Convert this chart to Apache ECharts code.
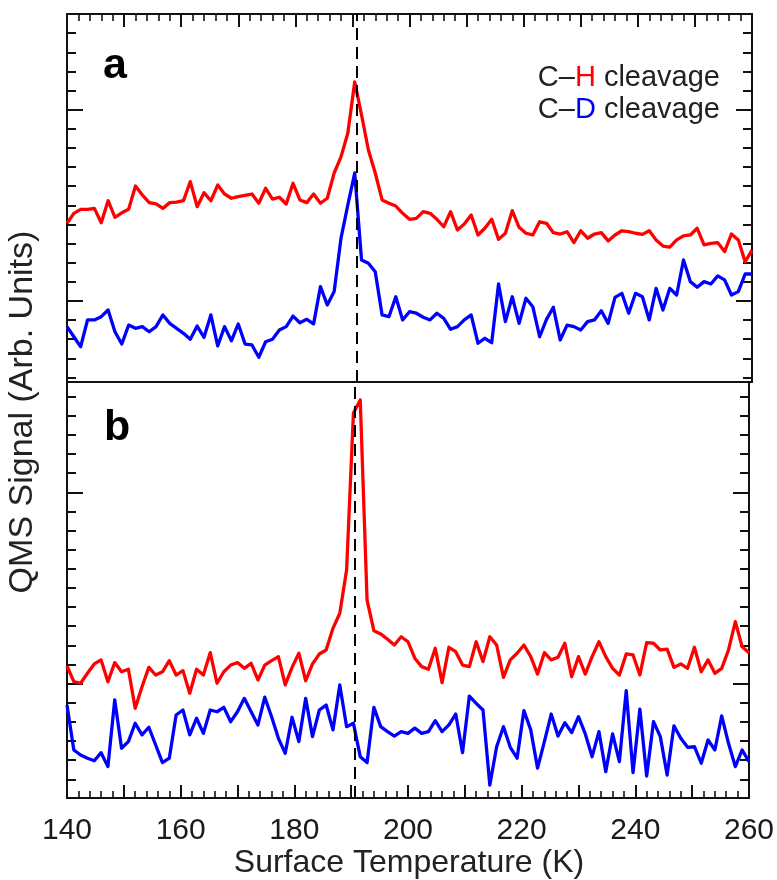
<!DOCTYPE html>
<html><head><meta charset="utf-8">
<script src="https://cdn.jsdelivr.net/npm/echarts@6/dist/echarts.min.js"></script>
<style>html,body{margin:0;padding:0;background:#fff}#c{width:777px;height:880px}</style>
</head><body><div id="c"></div>
<script>
// Surface temperature (K) sample grid
const temperature = [
140.0,141.2,142.4,143.6,144.8,146.0,147.2,148.4,149.6,150.8,
152.0,153.2,154.4,155.6,156.8,158.0,159.2,160.4,161.6,162.8,
164.0,165.2,166.4,167.6,168.8,170.0,171.2,172.4,173.6,174.8,
176.0,177.2,178.4,179.6,180.8,182.0,183.2,184.4,185.6,186.8,
188.0,189.2,190.4,191.6,192.8,194.0,195.2,196.4,197.6,198.8,
200.0,201.2,202.4,203.6,204.8,206.0,207.2,208.4,209.6,210.8,
212.0,213.2,214.4,215.6,216.8,218.0,219.2,220.4,221.6,222.8,
224.0,225.2,226.4,227.6,228.8,230.0,231.2,232.4,233.6,234.8,
236.0,237.2,238.4,239.6,240.8,242.0,243.2,244.4,245.6,246.8,
248.0,249.2,250.4,251.6,252.8,254.0,255.2,256.4,257.6,258.8,
260.0];

// Panel a, QMS signal (arb. units)
const panelA_CH = [
8.06,8.58,8.79,8.79,8.84,8.09,9.24,8.37,8.61,8.79,
10.01,9.54,9.14,9.07,8.84,9.14,9.17,9.24,10.24,8.93,
9.66,9.24,10.06,9.59,9.37,9.45,9.52,9.59,9.11,9.89,
9.32,9.42,9.07,10.15,9.28,9.14,9.59,9.11,9.37,10.69,
11.53,12.78,15.45,13.72,11.89,10.69,9.28,9.11,8.96,8.58,
8.27,8.32,8.67,8.58,8.27,7.88,8.67,7.71,8.02,8.49,
7.45,7.80,8.27,7.22,7.54,8.72,7.85,7.54,7.45,8.14,
8.06,7.57,7.50,7.62,7.05,7.67,7.28,7.50,7.57,7.14,
7.45,7.67,7.62,7.54,7.48,7.67,7.19,6.87,6.81,7.19,
7.40,7.45,7.80,6.93,7.01,7.05,6.58,7.50,7.19,6.05,
6.66];
const panelA_CD = [
2.66,2.13,1.61,3.01,3.01,3.18,3.53,2.39,1.75,2.74,
2.57,2.66,2.39,2.66,3.27,2.83,2.57,2.31,2.00,2.69,
2.10,3.27,1.65,2.66,1.92,2.80,1.75,1.70,1.06,1.87,
2.00,2.48,2.66,3.21,2.86,3.04,2.80,4.75,3.79,4.49,
7.28,9.02,10.69,6.14,5.97,5.53,3.27,3.18,4.22,3.01,
3.44,3.36,3.15,3.01,3.36,3.09,2.52,2.66,3.01,3.27,
1.79,2.05,1.82,4.89,2.92,4.22,2.83,4.14,3.70,2.13,
3.04,3.67,1.96,2.74,2.66,2.48,2.92,3.01,3.49,2.83,
4.19,4.40,3.36,4.40,4.22,3.01,4.66,3.53,4.66,4.31,
6.14,5.01,4.72,5.01,4.89,5.31,5.10,4.31,4.49,5.41,
5.41];

// Panel b, QMS signal (arb. units)
const panelB_CH = [
5.92,5.10,5.02,5.54,6.03,6.24,5.10,6.10,5.62,5.75,
3.71,4.84,5.85,5.45,5.62,6.20,5.45,5.68,4.50,5.75,
5.45,6.62,5.02,5.62,5.97,6.10,5.80,6.06,5.19,5.97,
6.20,6.41,4.93,5.85,6.59,5.15,6.03,6.55,6.76,7.89,
8.68,10.94,19.15,19.83,9.37,7.77,7.60,7.32,7.02,7.45,
7.19,6.33,5.89,5.75,6.85,5.05,6.90,6.67,5.97,5.89,
7.19,6.15,7.45,7.02,5.33,6.24,6.59,7.02,6.41,5.50,
6.62,6.24,6.38,7.11,5.36,6.41,5.50,6.41,7.19,6.41,
5.80,5.45,6.55,6.50,5.45,7.14,7.11,6.76,6.80,5.85,
6.03,5.80,6.90,5.62,6.24,5.54,5.80,6.76,8.24,6.93,
6.62];
const panelB_CD = [
3.88,1.53,1.27,1.10,0.97,1.39,0.66,4.15,1.62,1.97,
2.93,2.32,2.72,1.79,0.87,1.10,3.36,3.62,2.32,3.19,
2.40,3.62,3.53,3.76,3.01,3.53,4.23,3.53,2.84,4.29,
3.27,2.14,1.36,3.24,1.97,4.23,2.23,3.62,3.88,2.58,
4.93,2.75,2.93,1.18,0.87,3.76,2.75,2.49,2.26,2.49,
2.40,2.67,2.40,2.49,3.06,2.49,2.84,3.41,1.39,4.35,
3.97,3.62,-0.30,1.70,2.75,1.67,1.10,3.59,2.58,0.58,
1.97,3.41,2.26,2.96,2.44,3.27,2.37,1.18,2.49,0.40,
2.37,0.92,4.63,0.35,3.66,0.17,3.01,2.23,0.22,2.79,
2.14,1.67,1.70,0.84,2.05,1.53,3.31,1.88,0.66,1.53,
0.92];

// Axis values
const xRange = [140, 260];
const xMajorStep = 10;
const xTickLabels = [140, 160, 180, 200, 220, 240, 260];
const yRangeA = [-0.235, 19];
const yRangeB = [-0.98, 20.77];
const yTicksA = [0,1,2,3,4,5,6,7,8,9,10,11,12,13,14,15,16,17,18];
const yMajorA = [4, 14];
const yTicksB = [0,1,2,3,4,5,6,7,8,9,10,11,12,13,14,15,16,17,18,19,20];
const yMajorB = [5, 15];
const peakTemperature = 190.7;

const ink = '#111';
const red = '#ff0000';
const blue = '#0000ff';

function pairs(vals) { return temperature.map((t, i) => [t, vals[i]]); }

function xAx(grid, side, ticks, labels) {
  return {
    type: 'value', gridIndex: grid, position: side, min: xRange[0], max: xRange[1], interval: xMajorStep,
    axisLine: { show: true, onZero: false, lineStyle: { color: ink, width: 2 } },
    axisTick: { show: ticks, inside: true, length: 13, lineStyle: { color: ink, width: 2 } },
    minorTick: { show: ticks, splitNumber: 5, length: 7, lineStyle: { color: ink, width: 1.6 } },
    axisLabel: { show: labels, margin: 18, color: '#1a1a1a', fontSize: 30,
      fontFamily: '"Liberation Sans Narrow", "Liberation Sans", Arial, sans-serif',
      customValues: xTickLabels },
    splitLine: { show: false }, minorSplitLine: { show: false }
  };
}
function yAx(grid, side, range, ticks, len, showLine) {
  return {
    type: 'value', gridIndex: grid, position: side, min: range[0], max: range[1],
    axisLine: { show: showLine, onZero: false, lineStyle: { color: ink, width: 2 } },
    axisTick: { show: true, inside: true, length: len, customValues: ticks, lineStyle: { color: ink, width: 2 } },
    axisLabel: { show: false }, splitLine: { show: false }
  };
}
const dashLine = {
  silent: true, symbol: ['none', 'none'], label: { show: false }, animation: false,
  lineStyle: { color: '#000', type: [12, 7], width: 2 },
  emphasis: { disabled: true },
  data: [{ xAxis: peakTemperature }]
};
function line(name, vals, color, xi, yi, mark) {
  const s = { type: 'line', name, data: pairs(vals), xAxisIndex: xi, yAxisIndex: yi,
    showSymbol: false, symbol: 'none', lineStyle: { color, width: 3.3, join: 'round' }, itemStyle: { color },
    z: 3, clip: true };
  if (mark) s.markLine = dashLine;
  return s;
}

const chart = echarts.init(document.getElementById('c'), null, { renderer: 'canvas' });
const legendFont = '29px "Liberation Sans", Arial, sans-serif';
chart.setOption({
  animation: false,
  backgroundColor: '#fff',
  grid: [
    { left: 67, right: 25, top: 14, height: 368 },
    { left: 67, right: 25, top: 382, height: 416 }
  ],
  xAxis: [
    xAx(0, 'top', true, false),
    xAx(0, 'bottom', false, false),
    xAx(1, 'top', false, false),
    xAx(1, 'bottom', true, true)
  ],
  yAxis: [
    yAx(0, 'left', yRangeA, yTicksA, 9, true),
    yAx(0, 'left', yRangeA, yMajorA, 16, false),
    yAx(0, 'right', yRangeA, yTicksA, 9, true),
    yAx(0, 'right', yRangeA, yMajorA, 16, false),
    yAx(1, 'left', yRangeB, yTicksB, 9, true),
    yAx(1, 'left', yRangeB, yMajorB, 16, false),
    yAx(1, 'right', yRangeB, yTicksB, 9, true),
    yAx(1, 'right', yRangeB, yMajorB, 16, false)
  ],
  series: [
    line('a C-H', panelA_CH, red, 0, 0, true),
    line('a C-D', panelA_CD, blue, 0, 0, false),
    line('b C-H', panelB_CH, red, 3, 4, true),
    line('b C-D', panelB_CD, blue, 3, 4, false)
  ],
  graphic: [
    { type: 'text', x: 103, y: 66, z: 10, style: { text: 'a', font: 'bold 43px "Liberation Sans", Arial, sans-serif', fill: '#000', align: 'left', verticalAlign: 'middle', textAlign: 'left', textVerticalAlign: 'middle' } },
    { type: 'text', x: 104, y: 428, z: 10, style: { text: 'b', font: 'bold 43px "Liberation Sans", Arial, sans-serif', fill: '#000', align: 'left', verticalAlign: 'middle', textAlign: 'left', textVerticalAlign: 'middle' } },
    { type: 'text', x: 720, y: 78, z: 10, style: { text: '{k|C–}{r|H}{k| cleavage}', font: legendFont, align: 'right', verticalAlign: 'middle', textAlign: 'right', textVerticalAlign: 'middle',
      rich: { k: { fill: '#222', font: legendFont }, r: { fill: red, font: legendFont } } } },
    { type: 'text', x: 720, y: 110, z: 10, style: { text: '{k|C–}{b|D}{k| cleavage}', font: legendFont, align: 'right', verticalAlign: 'middle', textAlign: 'right', textVerticalAlign: 'middle',
      rich: { k: { fill: '#222', font: legendFont }, b: { fill: blue, font: legendFont } } } },
    { type: 'text', x: 409, y: 863, z: 10, style: { text: 'Surface Temperature (K)', font: '32px "Liberation Sans", Arial, sans-serif', fill: '#222', align: 'center', verticalAlign: 'middle', textAlign: 'center', textVerticalAlign: 'middle' } },
    { type: 'text', x: 23, y: 412, rotation: Math.PI / 2, z: 10, style: { text: 'QMS Signal (Arb. Units)', font: '34px "Liberation Sans", Arial, sans-serif', fill: '#222', align: 'center', verticalAlign: 'middle', textAlign: 'center', textVerticalAlign: 'middle' } }
  ]
});
</script>
</body></html>
